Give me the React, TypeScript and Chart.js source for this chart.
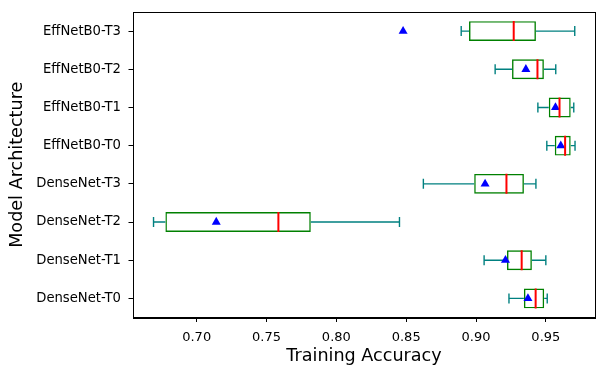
import React, { useEffect, useRef } from "react";
import { Chart, registerables } from "chart.js";

Chart.register(...registerables);

const categories = [
  "EffNetB0-T3",
  "EffNetB0-T2",
  "EffNetB0-T1",
  "EffNetB0-T0",
  "DenseNet-T3",
  "DenseNet-T2",
  "DenseNet-T1",
  "DenseNet-T0",
];
const whiskerLow = [0.8894, 0.9137, 0.9443, 0.9507, 0.8623, 0.6691, 0.9058, 0.9236];
const q1 = [0.895, 0.9258, 0.9521, 0.9564, 0.8987, 0.6776, 0.9222, 0.9343];
const medians = [0.927, 0.944, 0.9598, 0.9638, 0.9218, 0.7585, 0.9327, 0.9427];
const q3 = [0.9429, 0.9486, 0.9678, 0.9678, 0.9343, 0.7817, 0.94, 0.9488];
const whiskerHigh = [0.9707, 0.9571, 0.97, 0.9709, 0.9429, 0.8452, 0.95, 0.951];
const means = [0.8478, 0.9357, 0.9569, 0.9607, 0.9065, 0.714, 0.9211, 0.9372];
const xTicks = [0.7, 0.75, 0.8, 0.85, 0.9, 0.95];
const xMin = 0.6544;
const xMax = 0.9852;

const FONT = "'DejaVu Sans', sans-serif";

export default function App() {
  const ref = useRef<HTMLCanvasElement | null>(null);

  useEffect(() => {
    document.body.style.margin = "0";
    const canvas = ref.current;
    if (!canvas) return;

    const whiskerData: any[] = [];
    categories.forEach((c, i) => {
      whiskerData.push({ x: whiskerLow[i], y: c });
      whiskerData.push({ x: q1[i], y: c });
      whiskerData.push({ x: null, y: c });
      whiskerData.push({ x: q3[i], y: c });
      whiskerData.push({ x: whiskerHigh[i], y: c });
      whiskerData.push({ x: null, y: c });
    });
    const capData: any[] = [];
    categories.forEach((c, i) => {
      capData.push({ x: whiskerLow[i], y: c });
      capData.push({ x: whiskerHigh[i], y: c });
    });

    const frame = {
      id: "frame",
      afterDraw(chart: any) {
        const { ctx, chartArea } = chart;
        ctx.save();
        ctx.strokeStyle = "#000";
        ctx.lineWidth = 1;
        ctx.strokeRect(
          Math.round(chartArea.left) + 0.5,
          Math.round(chartArea.top) + 0.5,
          Math.round(chartArea.right - chartArea.left),
          Math.round(chartArea.bottom - chartArea.top)
        );
        ctx.restore();
      },
    };

    const chart = new Chart(canvas, {
      type: "bar",
      data: {
        labels: categories,
        datasets: [
          {
            type: "line",
            data: categories.map((c, i) => ({ x: medians[i], y: c })),
            showLine: false,
            pointStyle: "line",
            rotation: 90,
            pointRadius: 10,
            pointHoverRadius: 10,
            borderColor: "#ff0000",
            borderWidth: 2,
          } as any,
          {
            type: "line",
            data: categories.map((c, i) => ({ x: means[i], y: c })),
            showLine: false,
            pointStyle: "triangle",
            pointRadius: 5.2,
            pointHoverRadius: 5.2,
            backgroundColor: "#0000ff",
            borderColor: "#0000ff",
            borderWidth: 0,
          } as any,
          {
            type: "line",
            data: capData,
            showLine: false,
            pointStyle: "line",
            rotation: 90,
            pointRadius: 5,
            pointHoverRadius: 5,
            borderColor: "#008080",
            borderWidth: 1.4,
          } as any,
          {
            type: "line",
            data: whiskerData,
            spanGaps: false,
            pointRadius: 0,
            pointHoverRadius: 0,
            borderColor: "#008080",
            borderWidth: 1.4,
          } as any,
          {
            type: "bar",
            data: categories.map((_, i) => [q1[i], q3[i]]),
            backgroundColor: "rgba(0,0,0,0)",
            borderColor: "#008000",
            borderWidth: 1.4,
            borderSkipped: false,
            barPercentage: 0.52,
            categoryPercentage: 1,
          } as any,
        ],
      },
      options: {
        indexAxis: "y",
        animation: false,
        responsive: true,
        maintainAspectRatio: false,
        layout: { padding: { top: 10, right: 10, left: 0, bottom: 0 } },
        plugins: {
          legend: { display: false },
          tooltip: { enabled: false },
        },
        scales: {
          x: {
            type: "linear",
            min: xMin,
            max: xMax,
            afterBuildTicks: (scale: any) => {
              scale.ticks = xTicks.map((v) => ({ value: v }));
            },
            afterFit: (scale: any) => {
              scale.height = 57.5;
              scale.paddingLeft = 0;
              scale.paddingRight = 0;
            },
            grid: {
              display: true,
              drawOnChartArea: false,
              drawTicks: true,
              tickLength: 4.5,
              color: "#000",
            },
            border: { display: true, color: "#000" },
            ticks: {
              color: "#000",
              font: { family: FONT, size: 13 },
              padding: 8,
              maxRotation: 0,
              callback: (v: any) => Number(v).toFixed(2),
            },
            title: {
              display: true,
              text: "Training Accuracy",
              color: "#000",
              font: { family: FONT, size: 17.6 },
              padding: { top: 2, bottom: 8 },
            },
          },
          y: {
            type: "category",
            offset: true,
            afterFit: (scale: any) => {
              scale.width = 133;
              scale.paddingTop = 0;
              scale.paddingBottom = 0;
            },
            grid: {
              display: true,
              drawOnChartArea: false,
              drawTicks: true,
              tickLength: 4.5,
              color: "#000",
              offset: false,
            },
            border: { display: true, color: "#000" },
            ticks: {
              color: "#000",
              font: { family: FONT, size: 13.2 },
              padding: 7.5,
            },
            title: {
              display: true,
              text: "Model Architecture",
              color: "#000",
              font: { family: FONT, size: 17.6 },
              padding: { top: 7, bottom: 4 },
            },
          },
        },
      } as any,
      plugins: [frame],
    });

    return () => chart.destroy();
  }, []);

  return (
    <div style={{ position: "relative", width: 607, height: 375 }}>
      <canvas ref={ref} />
    </div>
  );
}
